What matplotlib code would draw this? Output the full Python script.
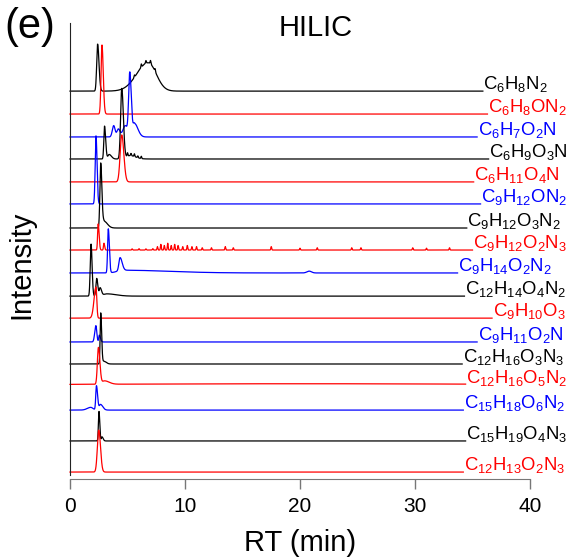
import numpy as np
import matplotlib
matplotlib.use("Agg")
import matplotlib.pyplot as plt

plt.rcParams['font.family'] = ['Liberation Sans', 'DejaVu Sans']
plt.rcParams['mathtext.default'] = 'regular'

# formulas, top to bottom
labels = ['C_6H_8N_2', 'C_6H_8ON_2', 'C_6H_7O_2N', 'C_6H_9O_3N', 'C_6H_{11}O_4N',
          'C_9H_{12}ON_2', 'C_9H_{12}O_3N_2', 'C_9H_{12}O_2N_3', 'C_9H_{14}O_2N_2',
          'C_{12}H_{14}O_4N_2', 'C_9H_{10}O_3', 'C_9H_{11}O_2N', 'C_{12}H_{16}O_3N_3',
          'C_{12}H_{16}O_5N_2', 'C_{15}H_{18}O_6N_2', 'C_{15}H_{19}O_4N_3', 'C_{12}H_{13}O_2N_3']
colors = ['black', 'red', 'blue'] * 6

# vertical offset of each trace baseline
offsets = [16.78, 15.77, 14.76, 13.79, 12.78, 11.81, 10.75, 9.78, 8.77,
           7.75, 6.78, 5.73, 4.76, 3.83, 2.73, 1.37, 0.0]
# RT where each trace stops (label starts)
end_rt = [35.9, 36.3, 35.4, 36.4, 35.1, 35.7, 34.5, 35.0, 33.7,
          34.3, 36.7, 35.4, 34.1, 34.4, 34.2, 34.4, 34.2]

# peaks: (RT, height, left width, right width)
peaks = [
    [(2.4, 2.07, 0.08, 0.12), (6.8, 1.25, 1.0, 0.7)],
    [(2.78, 3.04, 0.08, 0.11)],
    [(3.8, 0.5, 0.12, 0.12), (4.2, 0.35, 0.12, 0.15), (4.8, 0.5, 0.2, 0.2),
     (5.2, 2.8, 0.1, 0.13), (5.6, 0.6, 0.12, 0.3)],
    [(3.0, 1.45, 0.06, 0.1), (3.4, 0.2, 0.1, 0.2), (4.5, 3.1, 0.1, 0.14), (5.2, 0.15, 0.3, 0.5)],
    [(4.5, 2.07, 0.14, 0.18)],
    [(2.26, 3.0, 0.07, 0.09)],
    [(2.67, 2.86, 0.07, 0.1), (2.95, 0.3, 0.1, 0.3)],
    [(2.45, 1.15, 0.05, 0.08), (2.95, 0.3, 0.04, 0.06)],
    [(3.33, 1.94, 0.06, 0.09), (4.35, 0.57, 0.1, 0.18), (4.6, 0.12, 0.5, 4.0), (20.8, 0.08, 0.2, 0.2)],
    [(1.83, 2.29, 0.07, 0.09), (2.32, 0.78, 0.07, 0.1), (2.62, 0.35, 0.07, 0.12), (3.2, 0.1, 0.3, 0.8)],
    [(2.26, 1.37, 0.17, 0.07)],
    [(2.25, 0.72, 0.1, 0.08), (2.55, 0.3, 0.05, 0.1)],
    [(2.67, 2.25, 0.05, 0.08), (2.95, 0.12, 0.1, 0.2)],
    [(2.47, 1.62, 0.09, 0.13), (3.0, 0.15, 0.2, 0.4), (20.0, 0.06, 18.0, 18.0)],
    [(1.8, 0.12, 0.3, 0.2), (2.3, 1.07, 0.06, 0.1), (2.65, 0.25, 0.1, 0.2)],
    [(2.52, 1.3, 0.05, 0.07), (2.78, 0.18, 0.05, 0.1)],
    [(2.5, 1.85, 0.12, 0.15)],
]

# spiky noise: (trace index, RT, height)
spikes = [
    (0, 5.6, 0.1), (0, 6.2, 0.15), (0, 6.6, 0.12), (0, 7.0, 0.15), (0, 7.4, 0.12),
    (3, 5.0, 0.15), (3, 5.3, 0.1), (3, 5.6, 0.12), (3, 5.9, 0.08), (3, 6.2, 0.1),
    (7, 5.4, 0.05), (7, 6.0, 0.06), (7, 6.6, 0.05), (7, 7.2, 0.06),
    (7, 7.6, 0.15), (7, 7.9, 0.25), (7, 8.2, 0.2), (7, 8.5, 0.3), (7, 8.8, 0.2),
    (7, 9.1, 0.25), (7, 9.4, 0.2), (7, 9.8, 0.15), (7, 10.2, 0.2), (7, 10.6, 0.15),
    (7, 11.0, 0.15), (7, 11.5, 0.1), (7, 12.3, 0.1), (7, 13.5, 0.15), (7, 14.2, 0.1),
    (7, 17.5, 0.15), (7, 20.0, 0.08), (7, 21.5, 0.1), (7, 24.5, 0.1), (7, 25.3, 0.1),
    (7, 29.8, 0.1), (7, 31.0, 0.08), (7, 33.0, 0.1),
]


def peak(x, rt, h, wl, wr):
    w = np.where(x < rt, wl, wr)
    return h * np.exp(-0.5 * ((x - rt) / w) ** 2)


fig = plt.figure(figsize=(5.71, 5.57), dpi=100)
ax = fig.add_axes([0.1226, 0.1472, 0.8056, 0.8115])

for i in range(len(labels)):
    x = np.linspace(0, end_rt[i], 8000)
    y = np.full_like(x, offsets[i])
    for p in peaks[i]:
        y += peak(x, *p)
    for s in spikes:
        if s[0] == i:
            y += peak(x, s[1], s[2], 0.035, 0.035)
    ax.plot(x, y, color=colors[i], lw=0.9, clip_on=False)
    ax.text(end_rt[i] + 0.05, offsets[i] + 0.1, '$' + labels[i] + '$',
            color=colors[i], fontsize=13.3, ha='left', va='baseline', clip_on=False)

ax.set_xlim(0, 40)
ax.set_ylim(-0.13, 19.78)
ax.set_yticks([])
ax.set_xticks([0, 10, 20, 30, 40])
ax.spines['top'].set_visible(False)
ax.spines['right'].set_visible(False)
ax.spines['left'].set_color('#222222')
ax.spines['bottom'].set_position(('outward', 3))
ax.spines['bottom'].set_color('#777777')
ax.tick_params(axis='x', direction='out', length=7, width=1, color='#777777',
               labelsize=15, pad=6)
ax.set_xlabel('RT (min)', fontsize=21, labelpad=9)

fig.text(0.037, 0.524, 'Intensity', rotation=90, fontsize=21, ha='center', va='center')
fig.text(0.552, 0.95, 'HILIC', fontsize=21, ha='center', va='center')
fig.text(0.053, 0.952, '(e)', fontsize=30, ha='center', va='center')

fig.savefig('out.png', dpi=100)
